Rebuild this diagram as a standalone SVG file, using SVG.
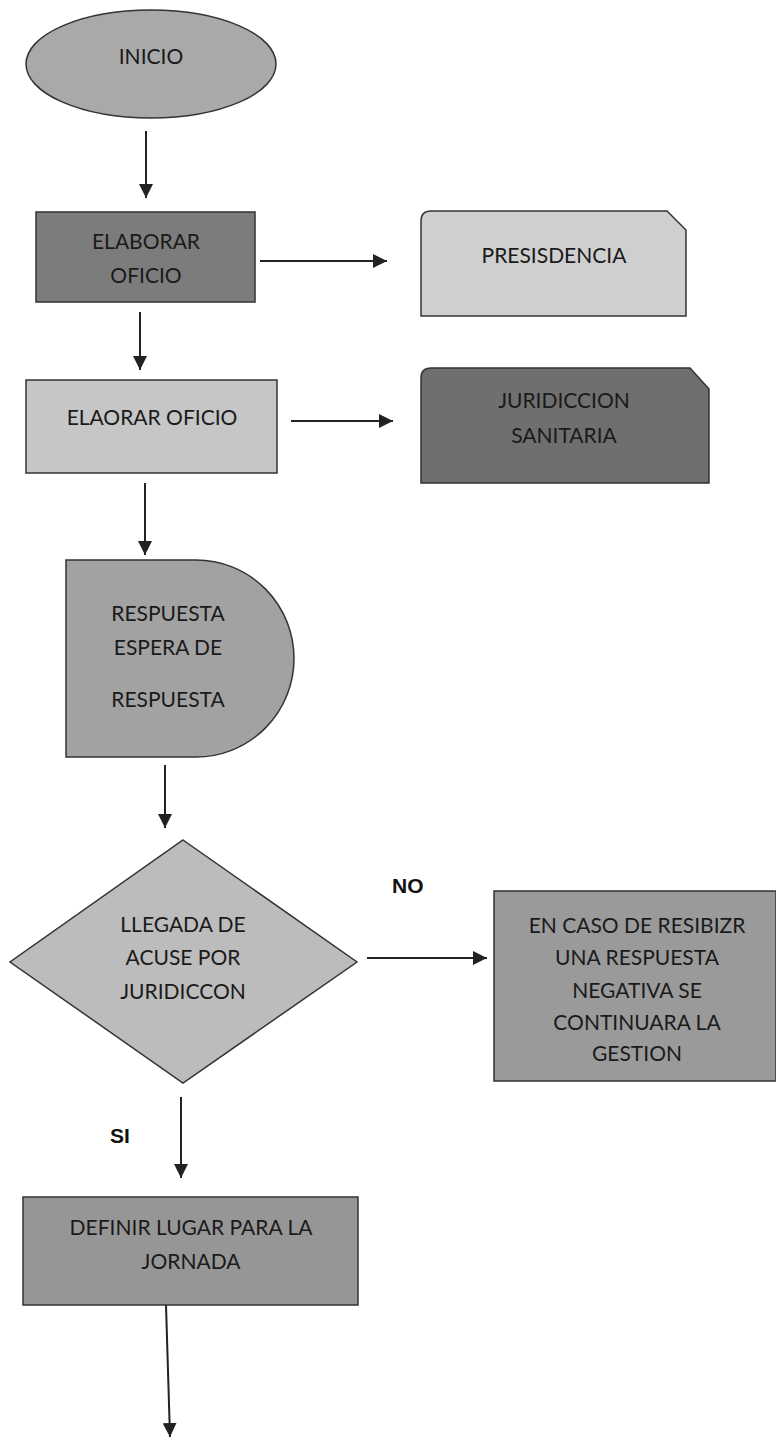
<svg xmlns="http://www.w3.org/2000/svg" width="776" height="1439" viewBox="0 0 776 1439">
<style>
.sh{stroke:#333;stroke-width:1.5}
.t{font-family:Lato,"Liberation Sans",sans-serif;font-size:21px;fill:#1a1a1a;text-anchor:middle}
.b{font-family:"Liberation Sans",Arial,sans-serif;font-size:21px;font-weight:bold;fill:#111}
.c{stroke:#222;stroke-width:2;fill:none;marker-end:url(#ah)}
</style>
<defs>
<marker id="ah" markerUnits="userSpaceOnUse" markerWidth="14" markerHeight="14" viewBox="0 0 14 14" refX="14" refY="7" orient="auto">
<path d="M0,0 L14,7 L0,14 Z" fill="#222"/>
</marker>
</defs>
<rect width="776" height="1439" fill="#fff"/>
<g id="connectors">
<line class="c" x1="146" y1="131" x2="146" y2="198"/>
<line class="c" x1="260" y1="261" x2="387" y2="261"/>
<line class="c" x1="140" y1="312" x2="140" y2="370"/>
<line class="c" x1="291" y1="421" x2="393" y2="421"/>
<line class="c" x1="145" y1="483" x2="145" y2="555"/>
<line class="c" x1="165" y1="765" x2="165" y2="828"/>
<line class="c" x1="367" y1="958" x2="487" y2="958"/>
<line class="c" x1="181" y1="1097" x2="181" y2="1178"/>
<line class="c" x1="166" y1="1305" x2="170" y2="1437"/>
</g>
<g id="inicio">
<ellipse class="sh" cx="151" cy="64" rx="125" ry="54" fill="#a9a9a9"/>
<text class="t" x="151" y="64">INICIO</text>
</g>
<g id="elaborar-oficio">
<rect class="sh" x="36" y="212" width="219" height="90" fill="#7c7c7c"/>
<text class="t" x="146" y="249">ELABORAR</text>
<text class="t" x="146" y="283">OFICIO</text>
</g>
<g id="presisdencia">
<path class="sh" d="M431,211 H667 L686,230 V316 H421 V221 Q421,211 431,211 Z" fill="#cfcfcf"/>
<text class="t" x="554" y="263">PRESISDENCIA</text>
</g>
<g id="elaorar-oficio">
<rect class="sh" x="26" y="380" width="251" height="93" fill="#c6c6c6"/>
<text class="t" x="152" y="425">ELAORAR OFICIO</text>
</g>
<g id="juridiccion">
<path class="sh" d="M431,368 H690 L709,389 V483 H421 V378 Q421,368 431,368 Z" fill="#6f6f6f"/>
<text class="t" x="564" y="408">JURIDICCION</text>
<text class="t" x="564" y="443">SANITARIA</text>
</g>
<g id="espera-respuesta">
<path class="sh" d="M66,560 H196 A98,98.5 0 0 1 196,757 H66 Z" fill="#a2a2a2"/>
<text class="t" x="168" y="621">RESPUESTA</text>
<text class="t" x="168" y="655">ESPERA DE</text>
<text class="t" x="168" y="707">RESPUESTA</text>
</g>
<g id="llegada-acuse">
<path class="sh" d="M183,840 L357,962 L183,1083 L10,962 Z" fill="#bcbcbc"/>
<text class="t" x="183" y="932">LLEGADA DE</text>
<text class="t" x="183" y="965">ACUSE POR</text>
<text class="t" x="183" y="999">JURIDICCON</text>
</g>
<g id="respuesta-negativa">
<rect class="sh" x="494" y="891" width="282" height="190" fill="#9a9a9a"/>
<text class="t" x="637" y="933">EN CASO DE RESIBIZR</text>
<text class="t" x="637" y="965">UNA RESPUESTA</text>
<text class="t" x="637" y="998">NEGATIVA SE</text>
<text class="t" x="637" y="1030">CONTINUARA LA</text>
<text class="t" x="637" y="1061">GESTION</text>
</g>
<g id="definir-lugar">
<rect class="sh" x="23" y="1197" width="335" height="108" fill="#969696"/>
<text class="t" x="191" y="1235">DEFINIR LUGAR PARA LA</text>
<text class="t" x="191" y="1269">JORNADA</text>
</g>
<g id="labels">
<text class="b" x="392" y="893">NO</text>
<text class="b" x="110" y="1143">SI</text>
</g>
</svg>
